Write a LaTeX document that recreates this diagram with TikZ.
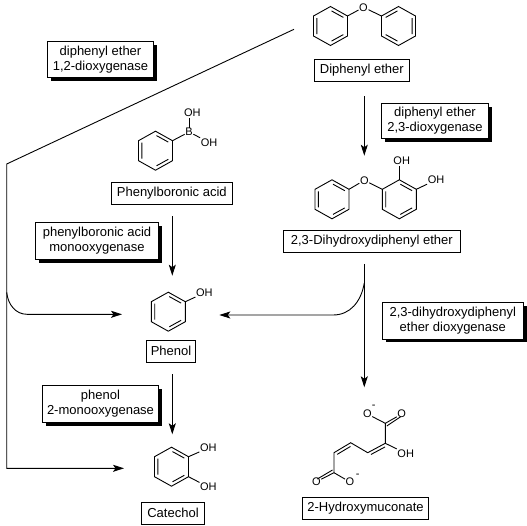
\documentclass[tikz,border=0pt]{standalone}
\usepackage{fontspec}
\setmainfont{Liberation Sans}
\usetikzlibrary{arrows.meta,shadows}
\newcommand{\ringoutline}{%
  \draw[bond] (0,-19.5) coordinate (-n) -- (17,-10) coordinate (-ne)
    -- (17,10) coordinate (-se) -- (0,19.5) coordinate (-s)
    -- (-17,10) coordinate (-sw) -- (-17,-10) coordinate (-nw) -- cycle;
  \coordinate (-c) at (0,0);}
\tikzset{
  bond/.style={black, line width=0.9pt},
  ringa/.pic={\ringoutline
    \draw[bond] (-13.6,-8) -- (-13.6,8) (1,-15.1) -- (12.8,-8.6) (1,15.1) -- (12.8,8.6);},
  ringb/.pic={\ringoutline
    \draw[bond] (13.6,-8) -- (13.6,8) (-1,-15.1) -- (-12.8,-8.6) (-1,15.1) -- (-12.8,8.6);},
}

\begin{document}
\begin{tikzpicture}[
  x=1pt, y=-1pt,
  chemlbl/.style={
    draw=black, line width=0.9pt, fill=white, inner sep=0pt, align=center,
    font=\fontsize{13}{15}\selectfont},
  enzlbl/.style={
    chemlbl, drop shadow={opacity=1, fill=black, shadow xshift=3.3pt, shadow yshift=-3.3pt}},
  atom/.style={inner sep=0.5pt, font=\fontsize{11}{13}\selectfont},
  charge/.style={inner sep=0pt, font=\fontsize{11}{13}\selectfont},
  rxn/.style={-{Stealth[length=11pt, width=7pt, inset=2.5pt]}, black, line width=0.9pt},
  innerbond/.style={bond, shorten >=2pt, shorten <=2pt},
]
\useasboundingbox (0,0) rectangle (527,525);

% ================= diphenyl ether ==================================
\pic (dpel) at (330.5,26) {ringa};
\pic (dper) at (398.5,26) {ringb};
\node[atom] (dpeo) at (363.5,7.3) {O};
\draw[bond] (dpel-ne) -- (dpeo);
\draw[bond] (dper-nw) -- (dpeo);
\node[chemlbl, minimum width=95pt, minimum height=22pt] (dpebox) at (361.8,70.3) {Diphenyl ether};

% ================= 2,3-dihydroxydiphenyl ether =====================
\pic (dhdl) at (332,199.3) {ringa};
\pic (dhdr) at (399.3,199.3) {ringa};
\node[atom] (dhdo) at (364.3,180.3) {O};
\node[atom] (dhdoha) at (401.7,161) {OH};
\node[atom] (dhdohb) at (436,180) {OH};
\draw[bond] (dhdl-ne) -- (dhdo);
\draw[bond] (dhdr-nw) -- (dhdo);
\draw[bond] (dhdr-n) -- (dhdr-n |- dhdoha.south);
\draw[bond] (dhdr-ne) -- (dhdohb);
\node[chemlbl, minimum width=177pt, minimum height=22pt] (dhdbox) at (371.8,241.3) {2,3-Dihydroxydiphenyl ether};

% ================= phenylboronic acid ==============================
\pic (pba) at (155.5,150.7) {ringa};
\node[atom] (pbab) at (189,132) {B};
\node[atom] (pbaoha) at (192.3,113) {OH};
\node[atom] (pbaohb) at (209,142.3) {OH};
\draw[bond] (pba-ne) -- (pbab);
\draw[bond] (pbab) -- (pbab |- pbaoha.south);
\draw[bond] (pbab) -- (pbaohb);
\node[chemlbl, minimum width=121pt, minimum height=22pt] (pbabox) at (171.8,193.3) {Phenylboronic acid};

% ================= phenol and catechol =============================
\pic (phe) at (168.3,311.7) {ringa};
\node[atom] (pheoh) at (204.3,293) {OH};
\draw[bond] (phe-ne) -- (pheoh);
\node[chemlbl, minimum width=49.4pt, minimum height=22pt] (phebox) at (171,351.3) {Phenol};

\pic (cat) at (171.5,466.7) {ringa};
\node[atom] (catoha) at (208.3,448) {OH};
\node[atom] (catohb) at (208.3,487) {OH};
\draw[bond] (cat-ne) -- (catoha);
\draw[bond] (cat-se) -- (catohb);
\node[chemlbl, minimum width=63.4pt, minimum height=22pt] (catbox) at (173,513.3) {Catechol};

% ================= 2-hydroxymuconate ===============================
\coordinate (hma) at (385.3,423.3);
\coordinate (hmb) at (385.3,443.3);
\coordinate (hmc) at (367.7,452.7);
\coordinate (hmd) at (350.7,442.7);
\coordinate (hme) at (334,452.7);
\coordinate (hmf) at (334,472.7);
\node[atom] (hmoa) at (367.3,414) {O};
\node[atom] (hmob) at (401.7,414) {O};
\node[atom] (hmoh) at (405.7,453.3) {OH};
\node[atom] (hmoc) at (316.3,481.7) {O};
\node[atom] (hmod) at (350,482) {O};
\node[charge] (hmna) at (373.7,406.5) {-};
\node[charge] (hmnb) at (357.7,476.3) {-};
\draw[bond] (hmoa) -- (hma) -- (hmb) -- (hmc) -- (hmd) -- (hme) -- (hmf) -- (hmod);
\draw[bond] (hma) -- (hmob);
\draw[bond] ([xshift=1.5pt,yshift=-2.7pt]hma) -- ([xshift=-1pt,yshift=-2.7pt]hmob.center);
\draw[bond] (hmb) -- (hmoh);
\draw[innerbond] ([xshift=1.5pt,yshift=-2.7pt]hmb) -- ([xshift=1.5pt,yshift=-2.7pt]hmc);
\draw[innerbond] ([xshift=1.5pt,yshift=-2.7pt]hmd) -- ([xshift=1.5pt,yshift=-2.7pt]hme);
\draw[bond] (hmf) -- (hmoc);
\draw[bond] ([xshift=-1.5pt,yshift=2.7pt]hmf) -- ([xshift=1pt,yshift=2.7pt]hmoc.center);
\node[chemlbl, minimum width=126.4pt, minimum height=22pt] (hmbox) at (365.5,508) {2-Hydroxymuconate};

% ================= enzymes =========================================
\node[enzlbl, minimum width=106.4pt, minimum height=36pt] (enzdpea) at (100.5,59.3) {diphenyl ether\\1,2-dioxygenase};
\node[enzlbl, minimum width=107.4pt, minimum height=35pt] (enzdpeb) at (435,120.8) {diphenyl ether\\2,3-dioxygenase};
\node[enzlbl, minimum width=123.4pt, minimum height=37pt] (enzpba) at (97,240.8) {phenylboronic acid\\monooxygenase};
\node[enzlbl, minimum width=116.4pt, minimum height=37pt] (enzphe) at (100.5,403.8) {phenol\\2-monooxygenase};
\node[enzlbl, minimum width=141pt, minimum height=36.7pt] (enzdhd) at (452.8,320.6) {2,3-dihydroxydiphenyl\\ether dioxygenase};

% ================= reactions =======================================
\draw[rxn] ([xshift=2.5pt,yshift=-14.7pt]dpebox.south) -- ([yshift=24.6pt]dhdo.center);
\draw[rxn] ([xshift=-7.5pt,yshift=-11pt]dhdbox.south) -- ([xshift=-21pt,yshift=36pt]hma);
\draw[rxn] ([xshift=0.5pt,yshift=-11.7pt]pbabox.south) -- ([xshift=4pt,yshift=16.5pt]phe-n);
\draw[rxn] ([xshift=1.3pt,yshift=-11.7pt]phebox.south) -- ([xshift=0.8pt,yshift=12.9pt]cat-n);

% long way round from diphenyl ether, with a branch to phenol
\coordinate (elbow) at (6.7,164);
\coordinate (branchl) at (6.7,292.3);
\coordinate (branchr) at (364.3,283);
\draw[rxn] ([xshift=-19.5pt,yshift=6.7pt]dpel-sw) -- (elbow) |- ([xshift=-47.5pt,yshift=-1.6pt]cat-c);
\draw[rxn] (branchl) .. controls (8,305) and (16,314.3) .. (27,314.3)
  -- ([xshift=-46.3pt,yshift=-2.6pt]phe-c);
\draw[rxn] (branchr) .. controls (361,302) and (350,315) .. (333,315)
  -- ([xshift=51pt,yshift=-3.3pt]phe-c);

\end{tikzpicture}
\end{document}
